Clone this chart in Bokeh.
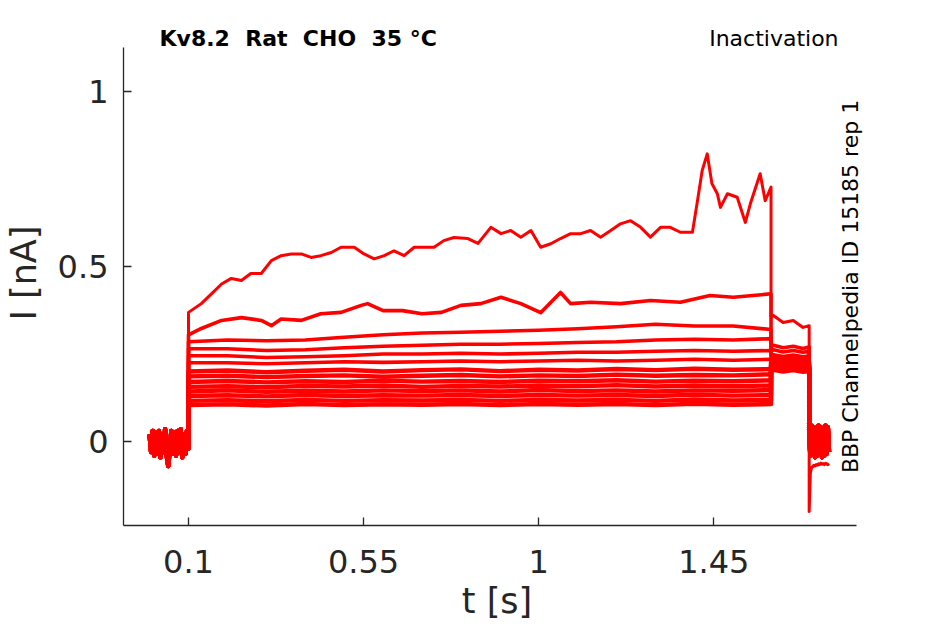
from bokeh.plotting import figure
from bokeh.models import FixedTicker, Label, Range1d
from bokeh.embed import file_html
from bokeh.resources import INLINE

# ---------------- data ----------------
x_ticks = [0.1, 0.55, 1.0, 1.45]
x_tick_labels = ["0.1", "0.55", "1", "1.45"]
y_ticks = [0.0, 0.5, 1.0]
y_tick_labels = ["0", "0.5", "1"]
x_axis_span = (-0.067, 1.817)
y_axis_span = (-0.24, 1.126)

# holding period before the step (shared by all sweeps)
t_pre = [0.000, 0.004, 0.008, 0.012, 0.016, 0.020, 0.024, 0.028, 0.032, 0.036,
         0.040, 0.044, 0.048, 0.052, 0.056, 0.060, 0.064, 0.068, 0.072, 0.076,
         0.080, 0.084, 0.088, 0.092, 0.096, 0.100]
i_pre = [0.020, -0.030, 0.030, -0.040, 0.025, -0.035, 0.030, -0.045, 0.020, -0.030,
         0.035, -0.040, -0.070, -0.020, 0.030, -0.035, 0.025, -0.040, 0.030, -0.030,
         0.035, -0.045, 0.020, -0.035, 0.030, -0.020]

# largest sweep
t1 = [0.100, 0.133, 0.159, 0.185, 0.210, 0.236, 0.260, 0.287, 0.313, 0.338,
      0.364, 0.390, 0.415, 0.440, 0.467, 0.492, 0.526, 0.551, 0.577, 0.603,
      0.628, 0.654, 0.680, 0.705, 0.731, 0.756, 0.782, 0.818, 0.844, 0.877,
      0.903, 0.928, 0.954, 0.980, 1.005, 1.031, 1.056, 1.082, 1.108, 1.133,
      1.159, 1.185, 1.210, 1.236, 1.262, 1.287, 1.313, 1.338, 1.364, 1.395,
      1.408, 1.420, 1.433, 1.445, 1.459, 1.467, 1.485, 1.510, 1.531, 1.544,
      1.569, 1.582, 1.597]
i1 = [0.369, 0.394, 0.422, 0.450, 0.466, 0.460, 0.480, 0.480, 0.517, 0.531,
      0.536, 0.536, 0.526, 0.531, 0.540, 0.555, 0.555, 0.536, 0.522, 0.531,
      0.545, 0.531, 0.555, 0.555, 0.555, 0.574, 0.583, 0.580, 0.566, 0.612,
      0.594, 0.603, 0.584, 0.603, 0.555, 0.565, 0.580, 0.594, 0.594, 0.603,
      0.584, 0.603, 0.622, 0.631, 0.612, 0.584, 0.612, 0.612, 0.598, 0.598,
      0.688, 0.774, 0.822, 0.737, 0.708, 0.669, 0.708, 0.698, 0.626, 0.680,
      0.765, 0.688, 0.727]

# second sweep
t2 = [0.100, 0.133, 0.185, 0.236, 0.287, 0.313, 0.338, 0.390, 0.440, 0.492,
      0.544, 0.560, 0.600, 0.650, 0.700, 0.750, 0.800, 0.851, 0.903, 0.954,
      1.005, 1.056, 1.082, 1.133, 1.210, 1.287, 1.364, 1.440, 1.500, 1.597]
i2 = [0.305, 0.323, 0.346, 0.354, 0.346, 0.331, 0.350, 0.346, 0.365, 0.369,
      0.389, 0.394, 0.374, 0.374, 0.365, 0.369, 0.389, 0.394, 0.412, 0.394,
      0.368, 0.426, 0.394, 0.398, 0.394, 0.403, 0.398, 0.417, 0.412, 0.422]

# remaining sweeps on a common time grid
t_s = [0.100, 0.200, 0.300, 0.400, 0.500, 0.600, 0.700, 0.800, 0.900, 1.000,
       1.100, 1.200, 1.300, 1.400, 1.500, 1.597]
i3 = [0.285, 0.290, 0.288, 0.290, 0.298, 0.305, 0.310, 0.312, 0.315, 0.318, 0.322, 0.328, 0.335, 0.330, 0.330, 0.320]
i4 = [0.265, 0.265, 0.260, 0.262, 0.268, 0.272, 0.275, 0.278, 0.278, 0.280, 0.283, 0.285, 0.290, 0.292, 0.290, 0.294]
i5 = [0.245, 0.245, 0.240, 0.242, 0.245, 0.250, 0.250, 0.252, 0.250, 0.252, 0.255, 0.255, 0.258, 0.260, 0.258, 0.260]
i6 = [0.225, 0.225, 0.222, 0.225, 0.228, 0.226, 0.228, 0.230, 0.228, 0.230, 0.232, 0.230, 0.232, 0.235, 0.232, 0.235]
i7 = [0.200, 0.203, 0.198, 0.202, 0.205, 0.200, 0.204, 0.206, 0.201, 0.205, 0.203, 0.207, 0.204, 0.208, 0.205, 0.207]
i8 = [0.186, 0.188, 0.184, 0.187, 0.189, 0.185, 0.188, 0.190, 0.186, 0.189, 0.187, 0.191, 0.188, 0.190, 0.189, 0.192]
i9 = [0.170, 0.173, 0.169, 0.172, 0.170, 0.174, 0.171, 0.173, 0.170, 0.174, 0.172, 0.175, 0.171, 0.174, 0.172, 0.175]
i10 = [0.156, 0.158, 0.155, 0.159, 0.157, 0.160, 0.156, 0.159, 0.157, 0.160, 0.158, 0.161, 0.157, 0.160, 0.158, 0.160]
i11 = [0.143, 0.146, 0.142, 0.145, 0.143, 0.146, 0.144, 0.146, 0.143, 0.147, 0.144, 0.146, 0.143, 0.146, 0.145, 0.147]
i12 = [0.130, 0.132, 0.129, 0.133, 0.130, 0.132, 0.131, 0.133, 0.130, 0.133, 0.131, 0.133, 0.130, 0.134, 0.131, 0.133]
i13 = [0.116, 0.118, 0.115, 0.119, 0.116, 0.118, 0.117, 0.119, 0.116, 0.119, 0.117, 0.119, 0.116, 0.120, 0.117, 0.119]
i14 = [0.104, 0.106, 0.103, 0.107, 0.104, 0.106, 0.105, 0.107, 0.104, 0.107, 0.105, 0.107, 0.104, 0.108, 0.105, 0.107]

# tail after the step
t_tail = [1.597, 1.603, 1.628, 1.654, 1.679, 1.695]
tail1 = [0.355, 0.360, 0.340, 0.346, 0.326, 0.331]
tail2 = [0.270, 0.275, 0.268, 0.272, 0.266, 0.270]
tail3 = [0.258, 0.262, 0.256, 0.260, 0.255, 0.258]
tail4 = [0.245, 0.248, 0.243, 0.247, 0.242, 0.245]
tail5 = [0.238, 0.240, 0.235, 0.239, 0.234, 0.237]
tail6 = [0.232, 0.234, 0.229, 0.233, 0.228, 0.231]
tail7 = [0.226, 0.228, 0.223, 0.227, 0.222, 0.225]
tail8 = [0.222, 0.224, 0.219, 0.223, 0.218, 0.221]
tail9 = [0.218, 0.220, 0.215, 0.219, 0.214, 0.217]
tail10 = [0.215, 0.217, 0.212, 0.216, 0.211, 0.214]
tail11 = [0.212, 0.214, 0.209, 0.213, 0.208, 0.211]
tail12 = [0.209, 0.211, 0.206, 0.210, 0.205, 0.208]
tail13 = [0.206, 0.208, 0.203, 0.207, 0.202, 0.205]
tail14 = [0.203, 0.205, 0.200, 0.204, 0.199, 0.202]

# final period
t_post = [1.695, 1.698, 1.701, 1.704, 1.707, 1.710, 1.713, 1.716, 1.719, 1.722,
          1.725, 1.728, 1.731, 1.734, 1.737, 1.740, 1.743, 1.746]
i_post = [0.030, -0.040, 0.045, -0.035, 0.040, -0.045, 0.035, -0.040, 0.045, -0.030,
          0.040, -0.045, 0.035, -0.040, 0.045, -0.035, 0.040, -0.030]
i_post1 = [-0.200, -0.090, -0.075, -0.072, -0.068, -0.070, -0.066, -0.068, -0.064, -0.066,
           -0.062, -0.065, -0.063, -0.066, -0.062, -0.064, -0.066, -0.063]

# double gaps kept visible in SVG with a no-break space after the normal space
title_text = "Kv8.2 \u00a0Rat \u00a0CHO \u00a035 °C"
right_title = "Inactivation"
side_text = "BBP Channelpedia ID 15185 rep 1"
x_label = "t [s]"
y_label = "I [nA]"

# ---------------- figure ----------------
# the plotting frame is extended up and right so the header texts sit inside it;
# the axis lines are limited to the real data span with `bounds`.
p = figure(width=945, height=624, output_backend="svg", toolbar_location=None,
           x_range=Range1d(x_axis_span[0], 1.8526),
           y_range=Range1d(y_axis_span[0], 1.203),
           min_border_left=122, min_border_right=75, min_border_top=20,
           min_border_bottom=99)
p.background_fill_color = "white"
p.border_fill_color = "white"
p.outline_line_color = None
p.xgrid.visible = False
p.ygrid.visible = False

axcol = "#262626"
for ax in (p.xaxis[0], p.yaxis[0]):
    ax.axis_line_color = axcol
    ax.axis_line_width = 1.3
    ax.major_tick_line_color = axcol
    ax.major_tick_line_width = 1.3
    ax.major_tick_in = 8
    ax.major_tick_out = 0
    ax.minor_tick_line_color = None
    ax.major_label_text_font = "DejaVu Sans"
    ax.major_label_text_font_size = "32px"
    ax.major_label_text_color = axcol
    ax.axis_label_text_font = "DejaVu Sans"
    ax.axis_label_text_font_size = "35px"
    ax.axis_label_text_font_style = "normal"
    ax.axis_label_text_color = axcol

p.xaxis.bounds = x_axis_span
p.yaxis.bounds = y_axis_span
p.xaxis.ticker = FixedTicker(ticks=x_ticks)
p.xaxis.major_label_overrides = dict(zip(x_ticks, x_tick_labels))
p.xaxis.major_label_standoff = 24
p.xaxis.axis_label = x_label
p.xaxis.axis_label_standoff = 5
p.yaxis.ticker = FixedTicker(ticks=y_ticks)
p.yaxis.major_label_overrides = dict(zip(y_ticks, y_tick_labels))
p.yaxis.major_label_standoff = 15
p.yaxis.axis_label = y_label
p.yaxis.axis_label_standoff = 11

red = "#ff0000"

step_t = [t1, t2] + [t_s] * 12
step_i = [i1, i2, i3, i4, i5, i6, i7, i8, i9, i10, i11, i12, i13, i14]
tails = [tail1, tail2, tail3, tail4, tail5, tail6, tail7, tail8, tail9, tail10,
         tail11, tail12, tail13, tail14]
posts = [i_post1] + [i_post] * 13

for k in range(len(step_i) - 1, -1, -1):
    xs = t_pre + step_t[k] + t_tail + t_post
    ys = i_pre + step_i[k] + tails[k] + posts[k]
    if k == 0:
        lw = 3.0
    elif k < 6:
        lw = 3.6
    else:
        lw = 4.4
    p.line(xs, ys, line_color=red, line_width=lw, line_join="round")

# ---------------- texts ----------------
p.add_layout(Label(x=0.0256, y=1.151, text=title_text, text_font="DejaVu Sans",
                   text_font_style="bold", text_font_size="22px", text_color="black",
                   text_align="left", text_baseline="middle"))
p.add_layout(Label(x=1.7705, y=1.151, text=right_title, text_font="DejaVu Sans",
                   text_font_size="22px", text_color="black",
                   text_align="right", text_baseline="middle"))
p.add_layout(Label(x=1.8013, y=0.443, text=side_text, text_font="DejaVu Sans",
                   text_font_size="22px", text_color="black", angle=1.5708,
                   text_align="center", text_baseline="middle"))

open("out.html", "w").write(file_html(p, INLINE))
